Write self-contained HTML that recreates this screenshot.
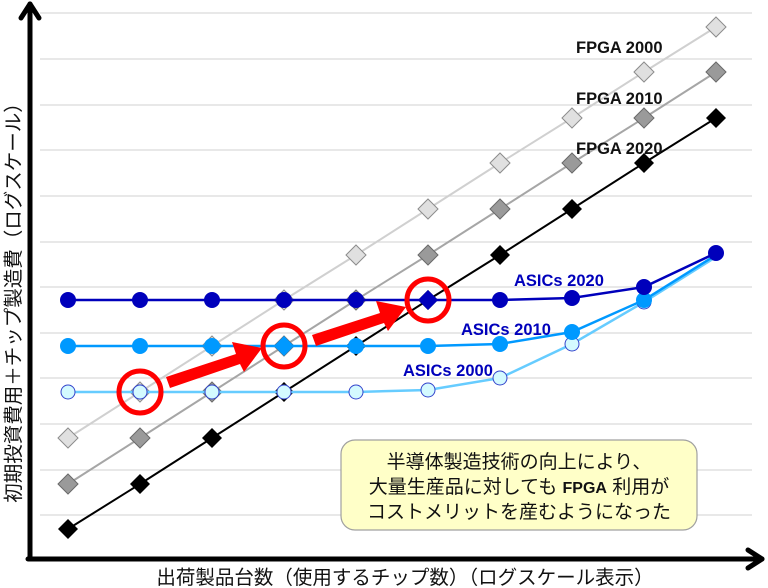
<!DOCTYPE html>
<html><head><meta charset="utf-8"><style>
html,body{margin:0;padding:0;background:#fff;}
svg{display:block;}
text{font-family:"Liberation Sans","Noto Sans CJK JP",sans-serif;}
</style></head><body>
<svg width="768" height="588" viewBox="0 0 768 588" xmlns="http://www.w3.org/2000/svg">
<g stroke="#d9d9d9" stroke-width="1.2">
<line x1="40" y1="13" x2="752" y2="13"/><line x1="40" y1="59" x2="752" y2="59"/>
<line x1="40" y1="105" x2="752" y2="105"/><line x1="40" y1="150" x2="752" y2="150"/>
<line x1="40" y1="196" x2="752" y2="196"/><line x1="40" y1="242" x2="752" y2="242"/>
<line x1="40" y1="287" x2="752" y2="287"/><line x1="40" y1="333" x2="752" y2="333"/>
<line x1="40" y1="378" x2="752" y2="378"/><line x1="40" y1="424" x2="752" y2="424"/>
<line x1="40" y1="470" x2="752" y2="470"/><line x1="40" y1="515" x2="752" y2="515"/>
</g>
<defs>
<path id="d" d="M0,-10 L10,0 L0,10 L-10,0 Z"/>
</defs>
<polyline fill="none" stroke="#d0d0d0" stroke-width="2" points="68,438 140,392 212,346 284,300 356,255 428,209 500,163 572,118 644,72 716,27"/>
<g fill="#e0e0e0" stroke="#8c8c8c" stroke-width="1">
<use href="#d" x="68" y="438"/><use href="#d" x="140" y="392"/><use href="#d" x="212" y="346"/><use href="#d" x="284" y="300"/><use href="#d" x="356" y="255"/><use href="#d" x="428" y="209"/><use href="#d" x="500" y="163"/><use href="#d" x="572" y="118"/><use href="#d" x="644" y="72"/><use href="#d" x="716" y="27"/>
</g>
<polyline fill="none" stroke="#a6a6a6" stroke-width="2" points="68,484 140,438 212,392 284,346 356,300 428,255 500,209 572,163 644,118 716,72"/>
<g fill="#9a9a9a" stroke="#6a6a6a" stroke-width="1">
<use href="#d" x="68" y="484"/><use href="#d" x="140" y="438"/><use href="#d" x="212" y="392"/><use href="#d" x="284" y="346"/><use href="#d" x="356" y="300"/><use href="#d" x="428" y="255"/><use href="#d" x="500" y="209"/><use href="#d" x="572" y="163"/><use href="#d" x="644" y="118"/><use href="#d" x="716" y="72"/>
</g>
<polyline fill="none" stroke="#000" stroke-width="2" points="68,529 140,484 212,438 284,392 356,346 428,300 500,255 572,209 644,163 716,118"/>
<g fill="#000">
<use href="#d" x="68" y="529"/><use href="#d" x="140" y="484"/><use href="#d" x="212" y="438"/><use href="#d" x="284" y="392"/><use href="#d" x="356" y="346"/><use href="#d" x="428" y="300"/><use href="#d" x="500" y="255"/><use href="#d" x="572" y="209"/><use href="#d" x="644" y="163"/><use href="#d" x="716" y="118"/>
</g>
<polyline fill="none" stroke="#66ccff" stroke-width="2.5" points="68,392 140,392 212,392 284,392 356,392 428,390 500,378 572,344 644,302 716,257"/>
<g fill="#d4faff" stroke="#3344cc" stroke-width="1">
<circle cx="68" cy="392" r="7"/><circle cx="140" cy="392" r="7"/><circle cx="212" cy="392" r="7"/><circle cx="284" cy="392" r="7"/><circle cx="356" cy="392" r="7"/><circle cx="428" cy="390" r="7"/><circle cx="500" cy="378" r="7"/><circle cx="572" cy="344" r="7"/><circle cx="644" cy="302" r="7"/>
</g>
<polyline fill="none" stroke="#0099ff" stroke-width="2.5" points="68,346 140,346 212,346 284,346 356,346 428,346 500,344 572,332 644,300 716,255"/>
<g fill="#0099ff">
<circle cx="68" cy="346" r="8"/><circle cx="140" cy="346" r="8"/><circle cx="212" cy="346" r="8"/><circle cx="356" cy="346" r="8"/><circle cx="428" cy="346" r="8"/><circle cx="500" cy="344" r="8"/><circle cx="572" cy="332" r="8"/><circle cx="644" cy="300" r="8"/>
</g>
<polyline fill="none" stroke="#0000bb" stroke-width="2.5" points="68,300 140,300 212,300 284,300 356,300 428,300 500,300 572,298 644,287 716,253"/>
<g fill="#0000bb">
<circle cx="68" cy="300" r="8"/><circle cx="140" cy="300" r="8"/><circle cx="212" cy="300" r="8"/><circle cx="284" cy="300" r="8"/><circle cx="356" cy="300" r="8"/><circle cx="500" cy="300" r="8"/><circle cx="572" cy="298" r="8"/><circle cx="644" cy="287" r="8"/><circle cx="716" cy="253" r="8"/>
</g>
<circle cx="140" cy="392" r="7" fill="#d4faff" stroke="#3344cc"/>
<use href="#d" x="284" y="346" fill="#0099ff"/>
<use href="#d" x="428" y="300" fill="#0000bb"/>
<polygon fill="#ff0000" points="166,377 236,354 232,342 262,348 244,372 240,364 170,388"/>
<polygon fill="#ff0000" points="312,335 380,313 376,301 406,307 388,331 384,323 316,346"/>
<g fill="none" stroke="#ff0000" stroke-width="5">
<circle cx="140" cy="392" r="21"/><circle cx="284" cy="346" r="21"/><circle cx="428" cy="300" r="21"/>
</g>
<g font-weight="bold" font-size="16.5">
<text x="576" y="53" fill="#111">FPGA 2000</text>
<text x="576" y="104" fill="#111">FPGA 2010</text>
<text x="576" y="154" fill="#111">FPGA 2020</text>
<text x="514" y="286" fill="#0000bb">ASICs 2020</text>
<text x="461" y="335" fill="#0000bb">ASICs 2010</text>
<text x="403" y="376" fill="#0000bb">ASICs 2000</text>
</g>
<rect x="341" y="440" width="356" height="90" rx="14" fill="#ffffc8" stroke="#a0a0a0" stroke-width="1.2"/>
<g font-size="19" fill="#111" text-anchor="middle">
<text x="519" y="468">半導体製造技術の向上により、</text>
<text x="519" y="493">大量生産品に対しても <tspan font-weight="bold" font-size="16">FPGA</tspan> 利用が</text>
<text x="519" y="518">コストメリットを産むようになった</text>
</g>
<g stroke="#000" stroke-width="5" fill="none" stroke-linecap="round" stroke-linejoin="round">
<line x1="30" y1="4" x2="30" y2="559"/>
<line x1="28" y1="559" x2="762" y2="559"/>
<polyline points="21,18 30,4 39,18"/>
<polyline points="748,550 762,559 748,568"/>
</g>
<text x="405" y="584" font-size="19.5" fill="#111" text-anchor="middle">出荷製品台数（使用するチップ数）（ログスケール表示）</text>
<text transform="translate(20,298) rotate(-90)" font-size="19.5" fill="#111" text-anchor="middle">初期投資費用＋チップ製造費（ログスケール）</text>
</svg>
</body></html>
